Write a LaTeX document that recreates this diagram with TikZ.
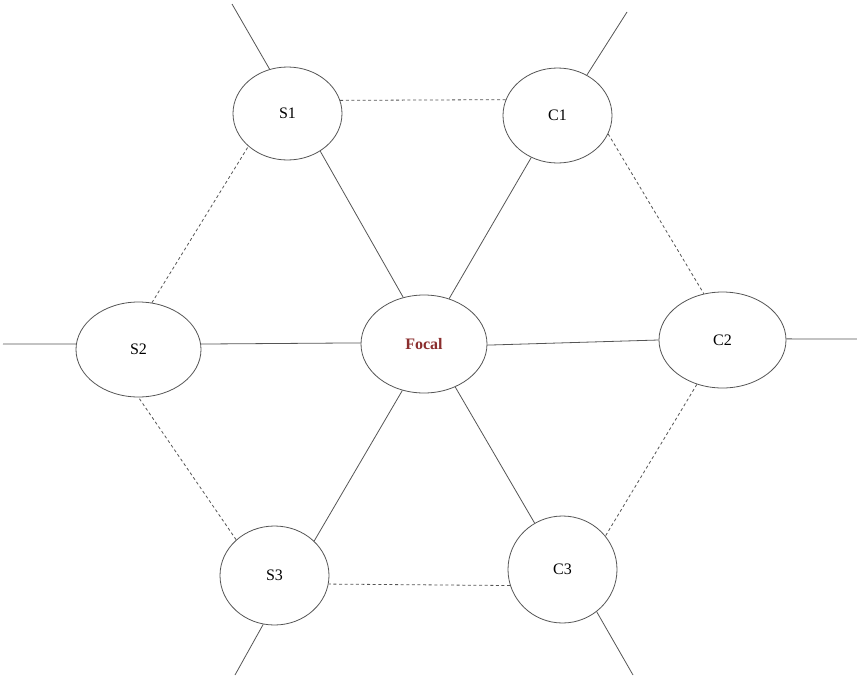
\documentclass[tikz,border=0pt]{standalone}
\usepackage{fontspec}
\setmainfont{Liberation Serif}
\usetikzlibrary{shapes.geometric}
\definecolor{focalred}{HTML}{8B2E2E}
\definecolor{linegray}{HTML}{555555}
\tikzset{
  nd/.style={ellipse, draw=linegray, line width=0.8pt, inner sep=0pt, fill=white,
             font=\fontsize{16}{18}\selectfont},
  solidlink/.style={draw=linegray, line width=0.8pt},
  dashlink/.style={draw=linegray, line width=0.8pt, dash pattern=on 3pt off 2.6pt},
}
\begin{document}
\begin{tikzpicture}[x=1pt,y=-1pt]
\useasboundingbox (0,0) rectangle (857,675);
% nodes
\node[nd, minimum width=109pt, minimum height=93pt] (S1) at (287.5,113.5) {S1};
\node[nd, minimum width=109pt, minimum height=95pt] (C1) at (557.5,115.5) {C1};
\node[nd, minimum width=125pt, minimum height=95pt] (S2) at (138.5,349.5) {S2};
\node[nd, minimum width=126pt, minimum height=98pt, text=focalred,
      font=\fontsize{16}{18}\selectfont\bfseries] (F) at (424,344) {Focal};
\node[nd, minimum width=127pt, minimum height=96pt] (C2) at (722.5,340) {C2};
\node[nd, minimum width=109pt, minimum height=99pt] (S3) at (274.5,575.5) {S3};
\node[nd, minimum width=109pt, minimum height=107pt] (C3) at (562.5,569.5) {C3};
% free ends of stubs
\coordinate (eS1) at (232,4);
\coordinate (eC1) at (627,12);
\coordinate (eS2) at (3,344);
\coordinate (eC2) at (857,339);
\coordinate (eS3) at (235,675);
\coordinate (eC3) at (633,675);
% solid links to focal
\draw[solidlink] (S1.-49.8) -- (F.114);
\draw[solidlink] (C1.238.4) -- (F.61);
\draw[solidlink] (S2.5) -- (F.179);
\draw[solidlink] (F.-1) -- (C2.180);
\draw[solidlink] (F.245.4) -- (S3.41.2);
\draw[solidlink] (F.-54.8) -- (C3.121.5);
% dashed ring
\draw[dashlink] (S1.14.9) -- (C1.163.2);
\draw[dashlink] (C1.-20) -- (C2.112.5);
\draw[dashlink] (C2.240.5) -- (C3.38.4);
\draw[dashlink] (C3.197.8) -- (S3.-9.9);
\draw[dashlink] (S3.137.3) -- (S2.270);
\draw[dashlink] (S2.74) -- (S1.220.9);
% stubs
\draw[solidlink] (S1.112.6) -- (eS1);
\draw[solidlink] (C1.54) -- (eC1);
\draw[solidlink] (S2.175) -- (eS2);
\draw[solidlink] (C2.1) -- (eC2);
\draw[solidlink] (S3.257.5) -- (eS3);
\draw[solidlink] (C3.-51) -- (eC3);
\end{tikzpicture}
\end{document}
